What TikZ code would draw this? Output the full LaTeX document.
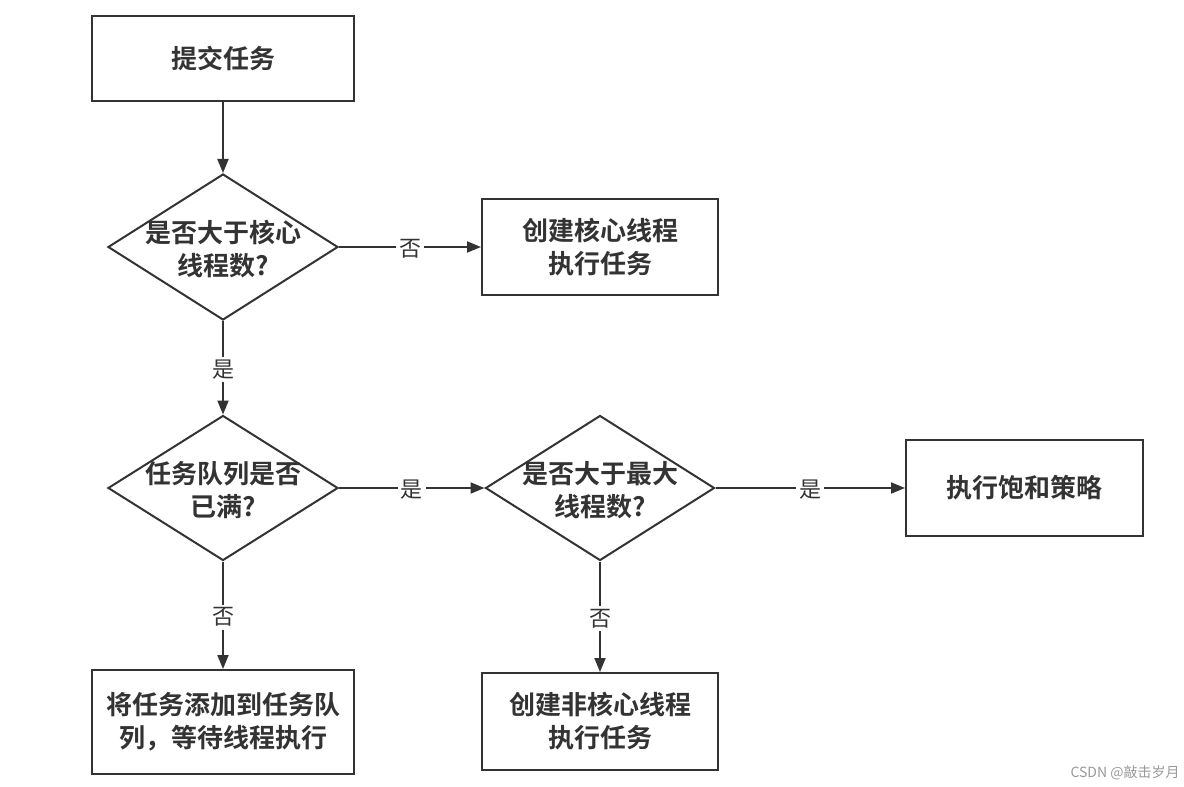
\documentclass[tikz,border=0pt]{standalone}
\usepackage{fontspec}
\newfontfamily\cjk{Noto Sans CJK SC}
\newfontfamily\cjkb{Noto Sans CJK SC Bold}
\usetikzlibrary{shapes.geometric,arrows.meta}
\definecolor{ink}{HTML}{333333}
\tikzset{
  box/.style={draw=ink, line width=1pt, rectangle, inner sep=0pt, align=center,
    font=\cjkb\fontsize{13pt}{16.5pt}\selectfont, text=ink},
  dia/.style={draw=ink, line width=1pt, diamond, inner sep=0pt},
  dtext/.style={align=center, font=\cjkb\fontsize{13pt}{16.5pt}\selectfont, text=ink, inner sep=0pt},
  conn/.style={draw=ink, line width=1pt, -{Triangle[length=7pt,width=5.5pt]}},
  lab/.style={fill=white, inner sep=1.5pt, font=\cjk\fontsize{11pt}{13pt}\selectfont, text=ink, yshift=-1pt}
}
\begin{document}
\begin{tikzpicture}[x=0.5pt,y=-0.5pt]
\fill[white] (0,0) rectangle (1184,787);
\useasboundingbox (0,0) rectangle (1184,787);

\node[box, minimum width=131pt, minimum height=42.5pt] (b1) at (223,58.5) {提交任务};
\node[dia, minimum width=115pt, minimum height=73pt] (d1) at (223,247) {};
\node[dtext] (t1) at (223,249) {是否大于核心\\线程数?};
\node[box, minimum width=118pt, minimum height=48pt] (b2) at (600,247) {创建核心线程\\执行任务};
\node[dia, minimum width=115pt, minimum height=72.5pt] (d2) at (223,488) {};
\node[dtext] (t2) at (223,490) {任务队列是否\\已满?};
\node[dia, minimum width=114.5pt, minimum height=72.5pt] (d3) at (600,488) {};
\node[dtext] (t3) at (600,490) {是否大于最大\\线程数?};
\node[box, minimum width=118.5pt, minimum height=48pt] (b3) at (1024.5,488) {执行饱和策略};
\node[box, minimum width=131pt, minimum height=52pt] (b4) at (223,722) {将任务添加到任务队\\列，等待线程执行};
\node[box, minimum width=118pt, minimum height=48.5pt] (b5) at (600,721.5) {创建非核心线程\\执行任务};

\draw[conn] (b1) -- (d1);
\draw[conn] (d1) -- node[lab] (l1) {否} (b2);
\draw[conn] (d1) -- node[lab] (l2) {是} (d2);
\draw[conn] (d2) -- node[lab] (l3) {是} (d3);
\draw[conn] (d3) -- node[lab] (l4) {是} (b3);
\draw[conn] (d2) -- node[lab] (l5) {否} (b4);
\draw[conn] (d3) -- node[lab] (l6) {否} (b5);

\node[font=\cjk\fontsize{7pt}{8pt}\selectfont, text=black!40, anchor=east, inner sep=0pt] (wm) at (1180,773) {CSDN @敲击岁月};
\end{tikzpicture}
\end{document}
